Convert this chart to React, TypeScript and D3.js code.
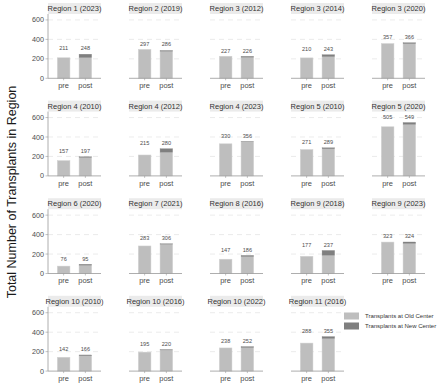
import React from "react";
import * as d3 from "d3";

const panelTitles = [
  "Region 1 (2023)", "Region 2 (2019)", "Region 3 (2012)", "Region 3 (2014)", "Region 3 (2020)",
  "Region 4 (2010)", "Region 4 (2012)", "Region 4 (2023)", "Region 5 (2010)", "Region 5 (2020)",
  "Region 6 (2020)", "Region 7 (2021)", "Region 8 (2016)", "Region 9 (2018)", "Region 9 (2023)",
  "Region 10 (2010)", "Region 10 (2016)", "Region 10 (2022)", "Region 11 (2016)",
];
const preTotals = [211, 297, 227, 210, 357, 157, 215, 330, 271, 505, 76, 283, 147, 177, 323, 142, 195, 238, 288];
const postTotals = [248, 286, 226, 243, 366, 197, 280, 356, 289, 549, 95, 306, 186, 237, 324, 166, 220, 252, 355];
const postNewCenter = [35, 8, 10, 20, 10, 8, 37, 3, 10, 20, 10, 5, 12, 50, 15, 8, 3, 10, 20];
const periods = ["pre", "post"];
const yTicks = [0, 200, 400, 600];
const legendLabels = ["Transplants at Old Center", "Transplants at New Center"];

const OLD = "#bebebe";
const NEW = "#7f7f7f";
const FONT = "'Liberation Sans', Arial, sans-serif";

export default function App() {
  const W = 440, H = 383;
  const nCols = 5;
  const colLeft0 = 48, colPitch = 81, panelW = 53;
  const rowTop0 = 14, rowPitch = 97.6, panelH = 64.3, stripH = 11;

  const y = d3.scaleLinear().domain([0, 661]).range([panelH, 0]);
  const x = d3.scalePoint<string>().domain(periods).range([0, panelW]).padding(0.72);
  const barW = 12.6;

  const panels = panelTitles.map((title, i) => {
    const col = i % nCols, row = Math.floor(i / nCols);
    const px = colLeft0 + col * colPitch;
    const py = rowTop0 + row * rowPitch;
    const pre = preTotals[i], post = postTotals[i], nw = postNewCenter[i];
    const old = post - nw;
    const labelY = y(Math.max(pre, post) + 58);
    return (
      <g key={title} transform={`translate(${px},${py})`}>
        <rect x={0} y={-stripH} width={panelW} height={stripH} fill="#ebebeb" />
        <text x={panelW / 2} y={-stripH / 2} dy="0.35em" textAnchor="middle" fontSize={7.5} fill="#333">{title}</text>
        {yTicks.filter((t) => t > 0).map((t) => (
          <line key={t} x1={0} x2={panelW} y1={y(t)} y2={y(t)} stroke="#e3e3e3" strokeWidth={0.7} strokeDasharray="5,4" />
        ))}
        <rect x={x("pre")! - barW / 2} y={y(pre)} width={barW} height={y(0) - y(pre)} fill={OLD} stroke="#d2d2d2" strokeWidth={0.5} />
        <rect x={x("post")! - barW / 2} y={y(old)} width={barW} height={y(0) - y(old)} fill={OLD} stroke="#d2d2d2" strokeWidth={0.5} />
        <rect x={x("post")! - barW / 2} y={y(post)} width={barW} height={y(old) - y(post)} fill={NEW} stroke="#8a8a8a" strokeWidth={0.3} />
        <text x={x("pre")} y={labelY} dy="0.35em" textAnchor="middle" fontSize={5.6} fill="#4d4d4d">{pre}</text>
        <text x={x("post")} y={labelY} dy="0.35em" textAnchor="middle" fontSize={5.6} fill="#4d4d4d">{post}</text>
        <line x1={0} x2={panelW} y1={y(0)} y2={y(0)} stroke="#999" strokeWidth={0.8} />
        {periods.map((p) => (
          <g key={p}>
            <line x1={x(p)} x2={x(p)} y1={y(0)} y2={y(0) + 2} stroke="#999" strokeWidth={0.6} />
            <text x={x(p)} y={y(0) + 7.2} dy="0.35em" textAnchor="middle" fontSize={7.5} fill="#4d4d4d">{p}</text>
          </g>
        ))}
        {col === 0 && (
          <g>
            <line x1={0} x2={0} y1={0} y2={panelH} stroke="#999" strokeWidth={0.8} />
            {yTicks.map((t) => (
              <g key={t}>
                <line x1={-2.5} x2={0} y1={y(t)} y2={y(t)} stroke="#999" strokeWidth={0.6} />
                <text x={-4} y={y(t)} dy="0.35em" textAnchor="end" fontSize={7.2} fill="#4d4d4d">{t}</text>
              </g>
            ))}
          </g>
        )}
      </g>
    );
  });

  return (
    <svg width={W} height={H} style={{ position: "absolute", left: 0, top: 0, fontFamily: FONT }}>
      <rect width={W} height={H} fill="#fff" />
      <text transform="translate(12,192) rotate(-90)" textAnchor="middle" dy="0.35em" fontSize={12.5} fill="#1a1a1a">
        Total Number of Transplants in Region
      </text>
      {panels}
      <g transform="translate(344,312.5)">
        {legendLabels.map((l, i) => (
          <g key={l} transform={`translate(0,${i * 10})`}>
            <rect x={0} y={0} width={15} height={7} fill={i === 0 ? OLD : NEW} />
            <text x={21} y={3.5} dy="0.35em" fontSize={6} fill="#333">{l}</text>
          </g>
        ))}
      </g>
    </svg>
  );
}
